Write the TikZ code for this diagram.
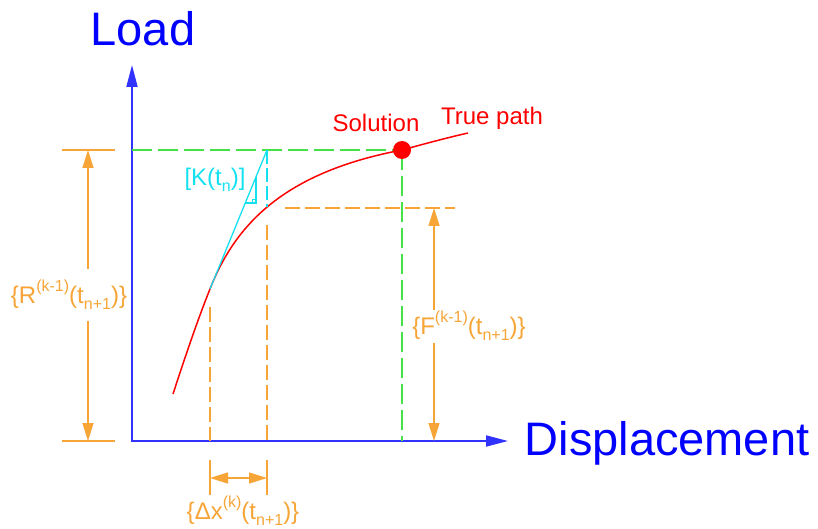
\documentclass[tikz,border=0pt]{standalone}
\usepackage{fontspec}
\setmainfont{Liberation Sans}
\usepackage{tikz}
\usetikzlibrary{arrows.meta}

\definecolor{axblue}{RGB}{50,50,255}
\definecolor{dimorange}{RGB}{247,165,55}
\definecolor{guidegreen}{RGB}{70,225,70}
\definecolor{tancyan}{RGB}{20,225,240}

\newcommand{\up}[1]{\raisebox{0.5em}{\fontsize{16}{16}\selectfont #1}}
\newcommand{\dn}[1]{\raisebox{-0.25em}{\fontsize{16}{16}\selectfont #1}}

\begin{document}
\begin{tikzpicture}[
  x=1pt,y=-1pt,
  every node/.style={inner sep=0pt},
  axisline/.style={axblue,line width=1.8pt,{Triangle[length=22pt,width=11pt]}-{Triangle[length=22pt,width=11pt]}},
  axlabel/.style={text=blue,font=\fontsize{47}{47}\selectfont,anchor=base},
  dim/.style={dimorange,line width=1.4pt},
  dimarr/.style={dim,{Triangle[length=18pt,width=11pt]}-{Triangle[length=18pt,width=11pt]}},
  ext/.style={dim,dash pattern=on 15pt off 5pt},
  guide/.style={guidegreen,line width=1.4pt,dash pattern=on 20pt off 6pt},
  tangent/.style={tancyan,line width=1.3pt},
  truepath/.style={red,line width=1.5pt},
  dimlabel/.style={text=dimorange,font=\fontsize{24}{24}\selectfont,fill=white},
  redlabel/.style={text=red,font=\fontsize{24}{24}\selectfont,anchor=base}
]
\useasboundingbox (0,0) rectangle (818,529);
% axes
\coordinate (O) at (132,441);
\coordinate (ytip) at (132,65);
\coordinate (xtip) at (508,441);
\draw[axisline] (ytip) -- (O) -- (xtip);
\node[axlabel] (load) at (143,46) {Load};
\node[axlabel] (disp) at (667,455) {Displacement};
% true path
\coordinate (c0) at (173,394);
\coordinate (tp) at (210,289);
\coordinate (fk) at (267,207);
\coordinate (sol) at (402,150);
\coordinate (c1) at (468,133);
\draw[truepath] (c0) .. controls (190,342) and (200,314) .. (tp)
  .. controls (234,228) and (280,173) .. (sol)
  .. controls (424,144) and (446,138) .. (c1);
\node[redlabel] (sollab) at (376,132) {Solution};
\node[redlabel] (pathlab) at (492,125) {True path};
% guides to the solution
\coordinate (soly) at (132,150);
\coordinate (solx) at (402,441);
\draw[guide] (soly) -- (sol);
\draw[guide] (sol) -- (solx);
\node[circle,fill=red,minimum size=18pt] (soldot) at (sol) {};
% tangent stiffness
\coordinate (ktop) at (267,150);
\draw[tangent] (tp) -- (ktop);
\draw[tangent,dash pattern=on 14pt off 4pt] (ktop) -- (fk);
\draw[tangent] (256,177) -- (256,203) -- (245,203);
\draw[tangent,line width=0.9pt] (252,203) -- (252,199) -- (256,199);
\node[text=tancyan,font=\fontsize{24}{24}\selectfont] (klab) at (215,180) {[K(t\dn{n})]};
% residual R
\coordinate (rtop) at (88,150);
\coordinate (rbot) at (88,441);
\draw[dim] (62,150) -- (115,150);
\draw[dim] (62,441) -- (115,441);
\draw[dimarr] (rtop) -- (rbot);
\node[dimlabel,minimum height=52pt] (rlab) at (69,295) {\{R\up{(k-1)}(t\dn{n+1})\}};
% internal force F
\coordinate (ftop) at (434,208);
\coordinate (fbot) at (434,441);
\draw[ext] (285,208) -- (455,208);
\draw[dimarr] (ftop) -- (fbot);
\node[dimlabel,minimum height=33pt] (flab) at (469,326) {\{F\up{(k-1)}(t\dn{n+1})\}};
% increment dx
\coordinate (dxa) at (210,478);
\coordinate (dxb) at (267,478);
\draw[ext] (210,307) -- (210,441);
\draw[ext] (267,225) -- (267,441);
\draw[dim] (210,460) -- (210,495);
\draw[dim] (267,460) -- (267,495);
\draw[dimarr] (dxa) -- (dxb);
\node[dimlabel] (dxlab) at (243,511) {\{Δx\up{(k)}(t\dn{n+1})\}};
\end{tikzpicture}
\end{document}
